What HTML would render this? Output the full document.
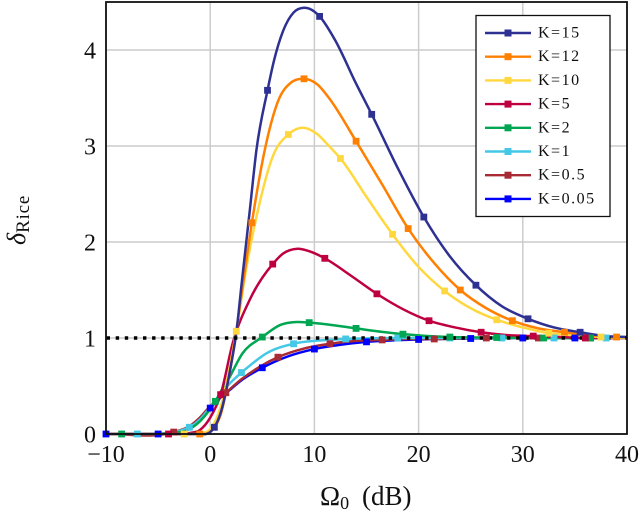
<!DOCTYPE html>
<html lang="en">
<head>
<meta charset="utf-8">
<title>Delta Rice chart</title>
<style>
html,body{margin:0;padding:0;background:#fff;width:640px;height:511px;overflow:hidden}
svg{display:block;font-family:"Liberation Serif",serif;fill:#111}
</style>
</head>
<body>
<svg id="chart" xmlns="http://www.w3.org/2000/svg" width="640" height="511" viewBox="0 0 640 511"></svg>
<script>
const xTicks = [-10, 0, 10, 20, 30, 40];
const yTicks = [0, 1, 2, 3, 4];
const xDomain = [-10, 40];
const yDomain = [0, 4];
const referenceLevel = 1;

const k15X = [-10,-1,0,0.4,1,2,2.5,3,3.8,4.44,5.5,6.1,7,8,9,10,10.5,12,14,15.5,18,20.5,23,25.5,28,30.5,33,35.5,38,40];
const k15Y = [0,0,0.02,0.07,0.22,0.72,1.05,1.55,2.33,2.96,3.58,3.88,4.2,4.39,4.44,4.4,4.35,4.1,3.65,3.33,2.77,2.26,1.85,1.55,1.33,1.2,1.11,1.06,1.02,1.01];
const k15Marks = [0.4,5.5,10.5,15.5,20.5,25.5,30.5,35.5];

const k12X = [-10,-1,0,0.5,1,2,3,4,5.24,6.68,7.64,9,10.3,11.4,14,16.5,19,21.5,24,26.5,29,31.5,34,36.5,39,40];
const k12Y = [0,0,0.02,0.08,0.2,0.72,1.45,2.2,2.96,3.51,3.65,3.7,3.64,3.5,3.05,2.6,2.14,1.78,1.5,1.31,1.18,1.1,1.06,1.03,1.01,1.01];
const k12Marks = [-1,4,9,14,19,24,29,34,39];

const k10X = [-10,-2.5,-1,0,1,1.5,2.5,3.5,4.58,6,7.5,8.8,10.2,11.4,12.5,15,17.5,20,22.5,25,27.5,30,32.5,35,37.5,40];
const k10Y = [0,0,0.01,0.05,0.28,0.5,1.07,1.75,2.33,2.89,3.12,3.19,3.13,3,2.87,2.47,2.08,1.74,1.49,1.31,1.19,1.11,1.05,1.03,1.01,1];
const k10Marks = [-2.5,2.5,7.5,12.5,17.5,22.5,27.5,32.5,37.5];

const k5X = [-10,-4,-2,-1,0,1,2.17,3.8,6,7,8.4,9.85,11,13.5,16,18.5,21,23.5,26,28.5,31,33.5,36,40];
const k5Y = [0,0,0.01,0.04,0.17,0.41,0.95,1.4,1.77,1.88,1.93,1.89,1.83,1.65,1.46,1.3,1.18,1.11,1.06,1.03,1.02,1.01,1,1];
const k5Marks = [-4,1,6,11,16,21,26,31,36];

const k2X = [-10,-8.5,-4,-2,-1,0,0.5,1,1.7,3.1,5,6.7,8.3,9.5,11,14,16,18.5,23,27.5,32,36.5,40];
const k2Y = [0,0,0.01,0.05,0.13,0.26,0.34,0.44,0.56,0.84,1.01,1.135,1.167,1.16,1.145,1.1,1.07,1.04,1.01,1.005,1,1,1];
const k2Marks = [-8.5,0.5,5,9.5,14,18.5,23,27.5,32,36.5];

const k1X = [-10,-7,-4,-3,-2,-1,0,1,2,3,4,5.4,8,11.4,13,18,23,28,33,38,40];
const k1Y = [0,0,0.01,0.03,0.07,0.15,0.28,0.42,0.54,0.64,0.73,0.84,0.94,0.98,0.99,1,1,1,1,1,1];
const k1Marks = [-7,-2,3,8,13,18,23,28,33,38];

const k05X = [-10,-3.5,-2,-1,0,1.5,3,4.75,6.5,9,11.5,14,16.5,19,21.5,26.5,31.5,36.5,40];
const k05Y = [0,0.02,0.08,0.17,0.29,0.43,0.57,0.7,0.8,0.89,0.94,0.97,0.98,0.99,0.99,1,1,1,1];
const k05Marks = [-3.5,1.5,6.5,11.5,16.5,21.5,26.5,31.5,36.5];

const k005X = [-10,-5,-3,-2,-1,0,1,2,3,4,5,7.5,10,12.5,15,17.5,20,25,30,35,40];
const k005Y = [0,0,0.02,0.06,0.15,0.27,0.38,0.47,0.56,0.63,0.69,0.81,0.885,0.93,0.96,0.975,0.985,0.995,1,1,1];
const k005Marks = [-10,-5,0,5,10,15,20,25,30,35];

const seriesLabels = ["K=15","K=12","K=10","K=5","K=2","K=1","K=0.5","K=0.05"];
const seriesSlugs = ["k-15","k-12","k-10","k-5","k-2","k-1","k-0-5","k-0-05"];
const seriesColors = ["#2e3192","#ff7f00","#ffd83f","#bf0040","#00a651","#44c8e5","#a82a35","#0000ff"];
const seriesXs = [k15X,k12X,k10X,k5X,k2X,k1X,k05X,k005X];
const seriesYs = [k15Y,k12Y,k10Y,k5Y,k2Y,k1Y,k05Y,k005Y];
const seriesMarks = [k15Marks,k12Marks,k10Marks,k5Marks,k2Marks,k1Marks,k05Marks,k005Marks];

const svg = document.getElementById('chart');
const NS = 'http://www.w3.org/2000/svg';
const left = 106, right = 627, top0 = 2, bottom = 434;
const y4Pixel = 50;
const xScale = v => left + (v - xDomain[0]) / (xDomain[1] - xDomain[0]) * (right - left);
const yScale = v => bottom - (v - yDomain[0]) / (yDomain[1] - yDomain[0]) * (bottom - y4Pixel);

function make(tag, attrs, parent) {
  const e = document.createElementNS(NS, tag);
  for (const k in attrs) e.setAttribute(k, attrs[k]);
  (parent || svg).appendChild(e);
  return e;
}

function smoothPath(xs, ys) {
  const n = xs.length;
  const slopes = [];
  for (let i = 0; i < n; i++) {
    if (i === 0) { slopes.push((ys[1] - ys[0]) / (xs[1] - xs[0])); continue; }
    if (i === n - 1) { slopes.push((ys[i] - ys[i - 1]) / (xs[i] - xs[i - 1])); continue; }
    const h0 = xs[i] - xs[i - 1], h1 = xs[i + 1] - xs[i];
    const a = (ys[i] - ys[i - 1]) / h0;
    const b = (ys[i + 1] - ys[i]) / h1;
    slopes.push(a === 0 || b === 0 ? 0 : (a * h1 + b * h0) / (h0 + h1));
  }
  let d = 'M' + xScale(xs[0]).toFixed(2) + ' ' + yScale(ys[0]).toFixed(2);
  for (let i = 0; i < n - 1; i++) {
    const h = xs[i + 1] - xs[i];
    const c1x = xs[i] + h / 3, c1y = ys[i] + slopes[i] * h / 3;
    const c2x = xs[i + 1] - h / 3, c2y = ys[i + 1] - slopes[i + 1] * h / 3;
    d += 'C' + xScale(c1x).toFixed(2) + ' ' + yScale(c1y).toFixed(2) + ' ' +
         xScale(c2x).toFixed(2) + ' ' + yScale(c2y).toFixed(2) + ' ' +
         xScale(xs[i + 1]).toFixed(2) + ' ' + yScale(ys[i + 1]).toFixed(2);
  }
  return d;
}

/* grid */
xTicks.forEach(t => {
  const g = make('line', {x1: xScale(t), x2: xScale(t), y1: top0, y2: bottom, stroke: '#cccccc', 'stroke-width': 1.5});
  
  
});
yTicks.forEach(t => {
  const g = make('line', {x1: left, x2: right, y1: yScale(t), y2: yScale(t), stroke: '#cccccc', 'stroke-width': 1.5});
  
  
});

/* series lines: drawn last-to-first so K=15 ends on top */
for (let i = seriesLabels.length - 1; i >= 0; i--) {
  const p = make('path', {d: smoothPath(seriesXs[i], seriesYs[i]), fill: 'none', stroke: seriesColors[i], 'stroke-width': 2.5, 'stroke-linejoin': 'round'});
  
  
}

/* dotted reference */
const refLine = make('line', {x1: left, x2: right, y1: yScale(referenceLevel), y2: yScale(referenceLevel), stroke: '#000', 'stroke-width': 3.4, 'stroke-dasharray': '3.4 5.7', 'stroke-dashoffset': -0.6});



/* markers */
for (let i = seriesLabels.length - 1; i >= 0; i--) {
  seriesMarks[i].forEach(mx => {
    const idx = seriesXs[i].indexOf(mx);
    if (idx < 0) return;
    const r = make('rect', {x: xScale(mx) - 3.4, y: yScale(seriesYs[i][idx]) - 3.4, width: 6.8, height: 6.8, fill: seriesColors[i]});
    
    
  });
}

/* axis frame */
const frame = make('rect', {x: left, y: top0, width: right - left, height: bottom - top0, fill: 'none', stroke: '#111', 'stroke-width': 1.8});



/* tick labels */
xTicks.forEach(t => {
  const e = make('text', {x: xScale(t), y: 462, 'text-anchor': 'middle', 'font-size': 24});
  e.textContent = t < 0 ? '\u2212' + Math.abs(t) : String(t);
  
  
});
yTicks.forEach(t => {
  const e = make('text', {x: 96, y: yScale(t) + 8.5, 'text-anchor': 'end', 'font-size': 24});
  e.textContent = String(t);
  
  
});

/* legend */
const legendBox = make('rect', {x: 476, y: 15.5, width: 134, height: 201, fill: '#fff', stroke: '#111', 'stroke-width': 1.3});


seriesLabels.forEach((label, i) => {
  const ly = 33 + i * 23.7;
  const g = make('g', {});
  
  
  make('line', {x1: 485, x2: 531, y1: ly, y2: ly, stroke: seriesColors[i], 'stroke-width': 2.4}, g);
  make('rect', {x: 504.5, y: ly - 3.5, width: 7, height: 7, fill: seriesColors[i]}, g);
  const t = make('text', {x: 538, y: ly + 4.5, 'font-size': 16, 'letter-spacing': 1.5}, g);
  t.textContent = label;
});

const xTitle = make('text', {x: 320, y: 505, 'font-size': 27});


xTitle.innerHTML = '\u03A9<tspan font-size="18" dy="4">0</tspan><tspan dy="-4" x="362">(dB)</tspan>';

const yTitle = make('text', {transform: 'translate(25,245) rotate(-90)', 'font-size': 26});


yTitle.innerHTML = '<tspan font-style="italic">\u03B4</tspan><tspan font-size="19" dy="4" letter-spacing="0.8">Rice</tspan>';
</script>
</body>
</html>
